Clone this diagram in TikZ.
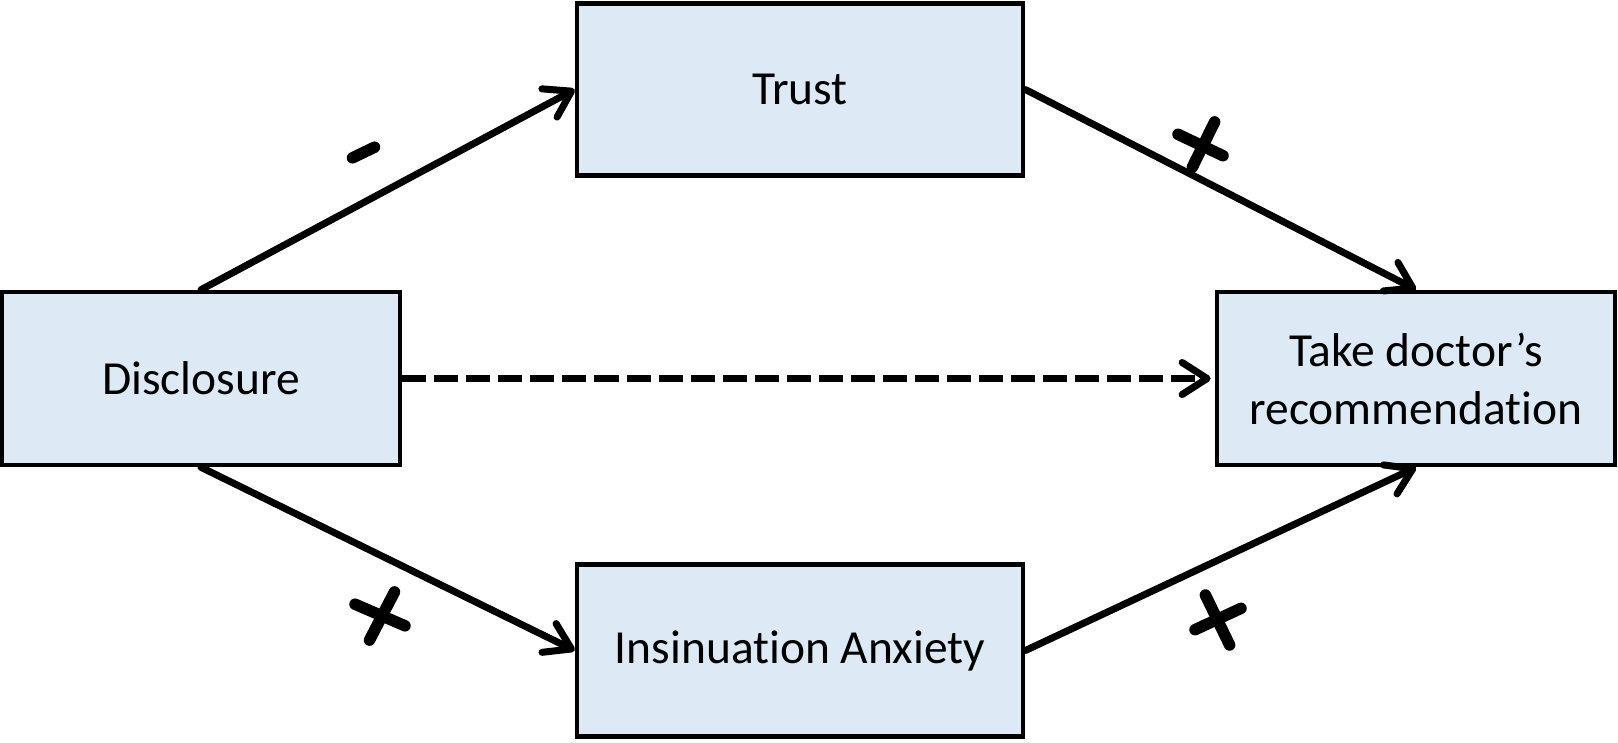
\documentclass[tikz,border=0pt]{standalone}
\usepackage{fontspec}
\setmainfont{Carlito}[Ligatures=NoCommon]
\usetikzlibrary{arrows.meta}
\definecolor{boxfill}{RGB}{222,233,246}
\begin{document}
\begin{tikzpicture}[x=0.01cm,y=-0.01cm,
  box/.style={draw=black,line width=0.045cm,fill=boxfill,align=center,
    font=\fontsize{13.5}{16.5}\selectfont,inner sep=0pt},
  small/.style={box,minimum width=3.98cm,minimum height=1.73cm},
  large/.style={box,minimum width=4.46cm,minimum height=1.72cm},
  conn/.style={line width=0.07cm,line cap=round,line join=round,
    -{Straight Barb[length=0.25cm,width=0.32cm,line cap=round,line join=round]}},
  sign/.style={line width=0.115cm,line cap=round}]
\useasboundingbox (0,0) rectangle (1618,742);
\node[small] (dis) at (201,378.5) {Disclosure};
\node[large] (tru) at (800,89.5) {Trust};
\node[large] (anx) at (800,650.5) {Insinuation Anxiety};
\node[small] (tak) at (1416,378.5) {Take doctor’s\\recommendation};
\draw[conn] (dis.north) -- (tru.west);
\draw[conn] (tru.east) -- (tak.north);
\draw[conn] (dis.south) -- (anx.west);
\draw[conn] (anx.east) -- (tak.south);
\draw[conn,dash pattern=on 0.24cm off 0.08cm,line cap=butt,shorten >=0.04cm] (dis.east) -- (tak.west);
% signs
\draw[sign] (352.5,157.8) -- (374.5,147.2);
\draw[sign] (1178,134.3) -- (1223,155.7);
\draw[sign] (1214.6,121.9) -- (1192.4,167.1);
\draw[sign] (355,604.2) -- (405,625.8);
\draw[sign] (394.5,591.9) -- (369.5,640.1);
\draw[sign] (1195,629.7) -- (1241,608.3);
\draw[sign] (1205.4,595) -- (1229.6,645);
\end{tikzpicture}
\end{document}
